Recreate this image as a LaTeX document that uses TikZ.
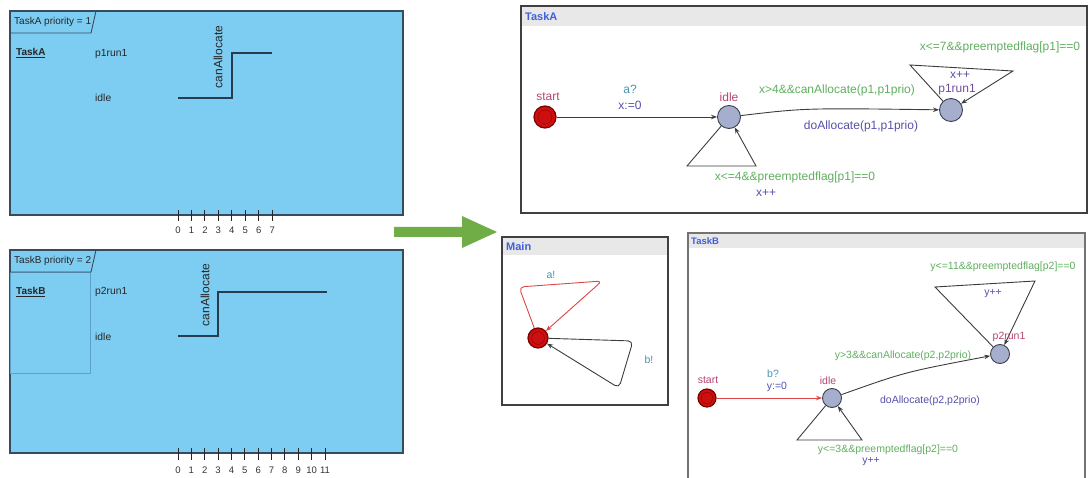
\documentclass[tikz,border=0pt]{standalone}
\usepackage{fontspec}
\setmainfont{Liberation Sans}
\usetikzlibrary{arrows.meta}

\definecolor{panelblue}{RGB}{125,205,243}
\definecolor{paneledge}{RGB}{55,75,95}
\definecolor{inneredge}{RGB}{95,160,200}
\definecolor{sigline}{RGB}{40,60,80}
\definecolor{arrowgreen}{RGB}{112,173,71}
\definecolor{hdrgray}{RGB}{232,232,232}
\definecolor{titleblue}{RGB}{65,95,215}
\definecolor{guardgreen}{RGB}{95,175,95}
\definecolor{updpurple}{RGB}{85,80,170}
\definecolor{syncteal}{RGB}{75,145,175}
\definecolor{locname}{RGB}{180,70,115}
\definecolor{locfill}{RGB}{165,175,205}
\definecolor{locedge}{RGB}{60,62,80}
\definecolor{initred}{RGB}{205,15,15}
\definecolor{initdark}{RGB}{125,0,0}
\definecolor{edgegray}{RGB}{60,60,60}
\definecolor{syncred}{RGB}{220,70,70}

\tikzset{
  panel/.style={draw=paneledge, fill=panelblue, line width=1.1pt},
  tabline/.style={draw=paneledge, line width=0.9pt},
  paneltext/.style={inner sep=0pt, anchor=west, text=black!85, font=\fontsize{10.3}{12}\selectfont},
  sig/.style={draw=sigline, line width=1.3pt},
  tickmark/.style={draw=black!85, line width=0.9pt},
  ticklabel/.style={inner sep=0pt, text=black!80, font=\fontsize{9.5}{11}\selectfont},
  autbox/.style={draw=black!75, line width=1.4pt},
  hdr/.style={fill=hdrgray, draw=none},
  hdrtext/.style={inner sep=0pt, anchor=west, text=titleblue, font=\bfseries\fontsize{11}{13}\selectfont},
  loc/.style={circle, draw=locedge, fill=locfill, line width=0.9pt, inner sep=0pt, minimum size=#1},
  initloc/.style={circle, draw=initdark, fill=initred, line width=1.2pt, inner sep=0pt, minimum size=#1,
    path picture={\draw[initdark!70!initred, line width=0.5pt] (path picture bounding box.center) circle (0.32*#1);}},
  edge/.style={draw=edgegray, line width=0.9pt, -{Stealth[length=6pt,width=4.5pt]}},
  syncedge/.style={draw=syncred, line width=0.9pt, -{Stealth[length=6pt,width=4.5pt]}},
  lab/.style={inner sep=0pt},
  big/.style={font=\fontsize{12}{14}\selectfont},
  mid/.style={font=\fontsize{10.5}{12}\selectfont},
  guard/.style={lab, text=guardgreen},
  upd/.style={lab, text=updpurple},
  syncl/.style={lab, text=syncteal},
  locl/.style={lab, text=locname},
}

\begin{document}
\begin{tikzpicture}[x=1pt,y=-1pt]
\useasboundingbox (0,0) rectangle (1092,478);

% ---------- timing diagram, TaskA ----------
\draw[panel] (10,11) rectangle (403,215);
\draw[tabline] (10,33) -- (91,33) -- (96,11);
\node[paneltext, font=\fontsize{10}{12}\selectfont] (tabA) at (14,22) {TaskA priority = 1};
\node[paneltext, font=\bfseries\fontsize{10}{12}\selectfont] (nameA) at (16,53) {\underline{TaskA}};
\node[paneltext] (runA) at (95,54) {p1run1};
\node[paneltext] (idleA) at (95,98) {idle};
\draw[sig] (178,98) -- (232,98) -- (232,53) -- (272,53);
\node[lab, rotate=90, text=black!85, font=\fontsize{12}{14}\selectfont] (caA) at (218,57) {canAllocate};
\foreach \i in {0,...,7} {
  \draw[tickmark] ({178+13.45*\i},210) -- ({178+13.45*\i},221);
  \node[ticklabel] (tA\i) at ({178+13.45*\i},230) {\i};
}

% ---------- timing diagram, TaskB ----------
\draw[panel] (10,250) rectangle (403,453);
\draw[draw=inneredge, line width=0.6pt] (10,272) rectangle (90,373);
\draw[tabline] (10,272) -- (91,272) -- (96,250);
\node[paneltext, font=\fontsize{10}{12}\selectfont] (tabB) at (14,261) {TaskB priority = 2};
\node[paneltext, font=\bfseries\fontsize{10}{12}\selectfont] (nameB) at (16,292) {\underline{TaskB}};
\node[paneltext] (runB) at (95,292) {p2run1};
\node[paneltext] (idleB) at (95,337) {idle};
\draw[sig] (178,336) -- (218,336) -- (218,292) -- (327,292);
\node[lab, rotate=90, text=black!85, font=\fontsize{12}{14}\selectfont] (caB) at (205,295) {canAllocate};
\foreach \i in {0,...,11} {
  \draw[tickmark] ({178+13.36*\i},448) -- ({178+13.36*\i},460);
  \node[ticklabel] (tB\i) at ({178+13.36*\i},470) {\i};
}

% ---------- transition arrow ----------
\fill[arrowgreen] (394,227) -- (462,227) -- (462,216) -- (497,232) -- (462,248) -- (462,237) -- (394,237) -- cycle;

% ---------- automaton TaskA ----------
\fill[hdr] (521,6) rectangle (1087,26);
\draw[autbox] (521,6) rectangle (1087,213);
\node[hdrtext] (hA) at (525,17) {TaskA};
\node[initloc=22pt] (aStart) at (545,117) {};
\node[loc=23pt] (aIdle) at (729,117) {};
\node[loc=23pt] (aRun) at (951,110) {};
\coordinate (aL1) at (687,166);
\coordinate (aL2) at (756,166);
\coordinate (aR1) at (910,65);
\coordinate (aR2) at (1013,71);
\draw[edge] (aStart) -- (aIdle);
\draw[edge] (aIdle) .. controls (805,108) .. (aRun);
\draw[edge] (aIdle) -- (aL1) -- (aL2) -- (aIdle);
\draw[edge] (aRun) -- (aR1) -- (aR2) -- (aRun);
\node[locl, big] (aStartL) at (548,97) {start};
\node[syncl, big] (aSync) at (630,89) {a?};
\node[upd, big] (aUpd) at (630,105) {x:=0};
\node[locl, big] (aIdleL) at (729,97) {idle};
\node[guard, big] (aG1) at (837,90) {x>4\&\&canAllocate(p1,p1prio)};
\node[upd, big] (aU1) at (861,126) {doAllocate(p1,p1prio)};
\node[guard, big] (aG2) at (795,177) {x<=4\&\&preemptedflag[p1]==0};
\node[upd, big] (aU2) at (766,193) {x++};
\node[guard, big] (aG3) at (1000,47) {x<=7\&\&preemptedflag[p1]==0};
\node[upd, big] (aU3) at (960,75) {x++};
\node[locl, big, text=updpurple!70!locname] (aRunL) at (957,90) {p1run1};

% ---------- automaton Main ----------
\fill[hdr] (502,237) rectangle (668,255);
\draw[autbox] (502,237) rectangle (668,405);
\node[hdrtext] (hM) at (506,247) {Main};
\node[initloc=20pt] (mLoc) at (538,338) {};
\coordinate (m1) at (519,287);
\coordinate (m2) at (602,281);
\coordinate (m3) at (633,341);
\coordinate (m4) at (619,388);
\draw[syncedge, rounded corners=5pt] (mLoc) -- (m1) -- (m2) -- (mLoc);
\draw[edge, rounded corners=5pt] (mLoc) -- (m3) -- (m4) -- (mLoc);
\node[syncl, mid] (mA) at (551,275) {a!};
\node[syncl, mid] (mB) at (649,360) {b!};

% ---------- automaton TaskB ----------
\fill[hdr] (688,233) rectangle (1085,248);
\draw[draw=black!55, line width=1.2pt] (688,480) -- (688,233) -- (1085,233) -- (1085,480);
\node[hdrtext, font=\bfseries\fontsize{9.5}{11}\selectfont] (hB) at (691,241) {TaskB};
\node[initloc=18pt] (bStart) at (707,398) {};
\node[loc=19pt] (bIdle) at (832,398) {};
\node[loc=19pt] (bRun) at (1000,354) {};
\coordinate (bL1) at (797,440);
\coordinate (bL2) at (862,440);
\coordinate (bR1) at (935,287);
\coordinate (bR2) at (1035,281);
\draw[syncedge] (bStart) -- (bIdle);
\draw[edge] (bIdle) .. controls (905,372) .. (bRun);
\draw[edge] (bIdle) -- (bL1) -- (bL2) -- (bIdle);
\draw[edge] (bRun) -- (bR1) -- (bR2) -- (bRun);
\node[locl, mid] (bStartL) at (708,380) {start};
\node[syncl, mid] (bSync) at (773,374) {b?};
\node[upd, mid] (bUpd) at (777,387) {y:=0};
\node[locl, mid] (bIdleL) at (828,381) {idle};
\node[guard, mid] (bG1) at (903,356) {y>3\&\&canAllocate(p2,p2prio)};
\node[upd, mid] (bU1) at (930,401) {doAllocate(p2,p2prio)};
\node[guard, mid] (bG2) at (888,450) {y<=3\&\&preemptedflag[p2]==0};
\node[upd, mid] (bU2) at (871,462) {y++};
\node[guard, mid] (bG3) at (1003,267) {y<=11\&\&preemptedflag[p2]==0};
\node[upd, mid] (bU3) at (993,294) {y++};
\node[locl, mid] (bRunL) at (1009,337) {p2run1};
\end{tikzpicture}
\end{document}
